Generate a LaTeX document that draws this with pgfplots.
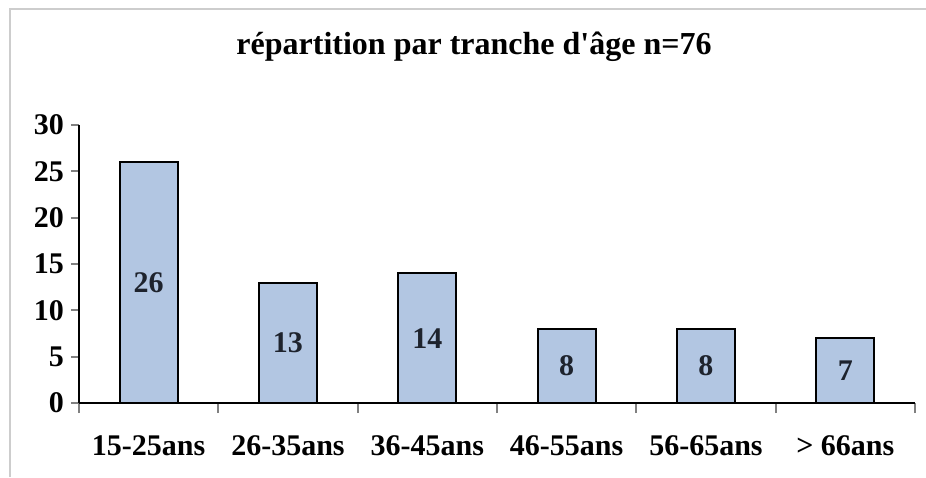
\documentclass[border=0pt]{standalone}
\usepackage{pgfplots}
\pgfplotsset{compat=1.18}
\usepackage{fontspec}
\setmainfont{Liberation Serif}[Ligatures=TeXOff]
\definecolor{barblue}{RGB}{178,198,226}
\definecolor{framegray}{RGB}{205,205,205}
\definecolor{labeldark}{RGB}{30,35,45}
\begin{document}
\begin{tikzpicture}
\useasboundingbox (0,0) rectangle (463pt,238.5pt);
\draw[framegray, line width=0.8pt] (5pt,0) -- (5pt,234pt) -- (463pt,234pt);
\node[font=\bfseries\fontsize{16}{16}\selectfont] at (237pt,215pt) {répartition par tranche d'âge n=76};
\begin{axis}[
  at={(39.5pt,37pt)}, anchor=south west,
  scale only axis, width=418pt, height=139pt,
  xmin=-0.5, xmax=5.5, ymin=0, ymax=30,
  axis x line*=bottom, axis y line*=left,
  axis line style={line width=1pt},
  /pgf/number format/assume math mode=true,
  ticklabel style={font=\bfseries\fontsize{15}{15}\selectfont},
  ytick={0,5,...,30},
  tick align=outside,
  major tick length=4pt,
  minor tick length=5pt,
  ytick style={line width=1pt},
  xtick={0,...,5},
  xticklabels={15-25ans,26-35ans,36-45ans,46-55ans,56-65ans,> 66ans},
  minor xtick={-0.5,0.5,...,5.5},
  major x tick style={draw=none},
  minor x tick style={line width=1pt},
  x tick label style={yshift=-9pt},
  clip=false,
]
\addplot[ybar, bar width=29pt, fill=barblue, draw=black, line width=1pt]
  coordinates {(0,26) (1,13) (2,14) (3,8) (4,8) (5,7)};
\addplot[draw=none, mark=none, nodes near coords, point meta=explicit,
  nodes near coords style={anchor=center, text=labeldark, font=\bfseries\fontsize{15}{15}\selectfont}]
  table[x=x, y expr=\thisrow{y}/2, meta=y] {
x y
0 26
1 13
2 14
3 8
4 8
5 7
};
\end{axis}
\end{tikzpicture}
\end{document}
